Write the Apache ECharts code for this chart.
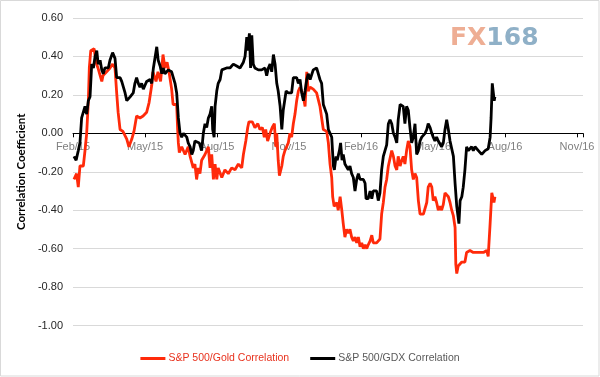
<!DOCTYPE html>
<html>
<head>
<meta charset="utf-8">
<script src="https://cdn.jsdelivr.net/npm/echarts@6/dist/echarts.min.js"></script>
<style>
  html, body { margin: 0; padding: 0; background: #fff; }
  #chart { width: 600px; height: 377px; }
</style>
</head>
<body>
<div id="chart"></div>
<script>
// x positions are months after Feb 2015 (0 = Feb/15, 3 = May/15, ...)
const monthLabels = ['Feb/15', 'May/15', 'Aug/15', 'Nov/15', 'Feb/16', 'May/16', 'Aug/16', 'Nov/16'];
const yTicks = [-1, -0.8, -0.6, -0.4, -0.2, 0, 0.2, 0.4, 0.6];

const goldMonths = [0.04, 0.15, 0.22, 0.29, 0.36, 0.43, 0.50, 0.57, 0.64, 0.68, 0.74, 0.82, 0.88, 0.96, 1.04, 1.20, 1.25, 1.40, 1.54, 1.65,
  1.75, 1.82, 1.88, 1.96, 2.08, 2.24, 2.33, 2.45, 2.54, 2.65, 2.79, 2.92, 3.07, 3.17, 3.28, 3.33, 3.46, 3.54, 3.65, 3.75,
  3.83, 3.92, 4.00, 4.11, 4.17, 4.32, 4.36, 4.39, 4.43, 4.53, 4.67, 4.80, 4.88, 4.95, 5.01, 5.08, 5.15, 5.22, 5.29, 5.36,
  5.50, 5.64, 5.71, 5.78, 5.85, 5.92, 5.99, 6.05, 6.20, 6.33, 6.47, 6.61, 6.75, 6.89, 7.03, 7.10, 7.20, 7.28, 7.33, 7.47,
  7.58, 7.70, 7.79, 7.89, 7.97, 8.03, 8.11, 8.21, 8.30, 8.39, 8.45, 8.49, 8.55, 8.60, 8.70, 8.76, 8.83, 8.90, 8.97, 9.04,
  9.11, 9.18, 9.25, 9.32, 9.39, 9.46, 9.53, 9.60, 9.67, 9.74, 9.80, 9.88, 10.01, 10.15, 10.22, 10.29, 10.36, 10.43, 10.57, 10.64,
  10.71, 10.78, 10.82, 10.88, 10.99, 11.05, 11.13, 11.20, 11.26, 11.33, 11.40, 11.47, 11.54, 11.61, 11.68, 11.75, 11.82, 11.89, 11.96, 12.03,
  12.10, 12.17, 12.24, 12.30, 12.38, 12.45, 12.51, 12.65, 12.79, 12.86, 12.93, 13.00, 13.07, 13.14, 13.21, 13.28, 13.35, 13.42, 13.49, 13.55,
  13.63, 13.70, 13.76, 13.83, 13.90, 13.97, 14.04, 14.11, 14.18, 14.25, 14.32, 14.39, 14.46, 14.53, 14.60, 14.67, 14.74, 14.80, 14.88, 14.95,
  15.01, 15.08, 15.15, 15.22, 15.29, 15.36, 15.43, 15.50, 15.57, 15.64, 15.71, 15.78, 15.85, 15.92, 15.95, 15.99, 16.05, 16.13, 16.20, 16.33,
  16.40, 16.54, 16.68, 16.82, 16.96, 17.10, 17.24, 17.30, 17.38, 17.45, 17.49, 17.54, 17.58];
const goldValues = [-0.24, -0.21, -0.28, -0.17, -0.16, -0.17, -0.09, 0.00, 0.17, 0.34, 0.43, 0.44, 0.44, 0.37, 0.34, 0.27, 0.30, 0.32, 0.34, 0.36,
  0.34, 0.21, 0.11, 0.02, 0.01, -0.03, -0.07, -0.03, 0.01, 0.09, 0.08, 0.09, 0.11, 0.16, 0.25, 0.32, 0.27, 0.32, 0.27, 0.41,
  0.34, 0.37, 0.32, 0.23, 0.15, 0.15, 0.02, -0.05, -0.10, -0.07, -0.11, -0.07, -0.12, -0.11, -0.18, -0.16, -0.24, -0.18, -0.21, -0.14,
  -0.11, -0.07, -0.18, -0.11, -0.24, -0.16, -0.24, -0.18, -0.23, -0.19, -0.21, -0.18, -0.19, -0.16, -0.18, -0.11, -0.04, 0.03, 0.06, 0.06,
  0.03, 0.05, 0.02, 0.03, -0.02, 0.02, -0.04, 0.00, 0.03, 0.05, -0.07, 0.00, -0.14, -0.22, -0.17, -0.12, -0.09, -0.07, -0.05, 0.00,
  -0.02, 0.05, 0.10, 0.17, 0.22, 0.24, 0.22, 0.19, 0.14, 0.32, 0.22, 0.24, 0.23, 0.21, 0.21, 0.14, 0.08, 0.02, 0.01, -0.05,
  -0.16, -0.23, -0.33, -0.38, -0.36, -0.40, -0.33, -0.40, -0.47, -0.54, -0.50, -0.52, -0.50, -0.54, -0.56, -0.54, -0.57, -0.54, -0.59, -0.57,
  -0.60, -0.58, -0.60, -0.58, -0.56, -0.53, -0.57, -0.57, -0.55, -0.42, -0.36, -0.28, -0.24, -0.17, -0.17, -0.09, -0.12, -0.17, -0.19, -0.12,
  -0.17, -0.14, -0.12, -0.16, -0.09, -0.04, -0.07, -0.19, -0.24, -0.21, -0.23, -0.35, -0.42, -0.43, -0.42, -0.43, -0.36, -0.28, -0.26, -0.28,
  -0.35, -0.33, -0.36, -0.40, -0.38, -0.40, -0.37, -0.31, -0.30, -0.33, -0.36, -0.40, -0.43, -0.49, -0.68, -0.73, -0.69, -0.68, -0.67, -0.67,
  -0.62, -0.61, -0.62, -0.62, -0.62, -0.62, -0.61, -0.64, -0.47, -0.31, -0.30, -0.36, -0.33];

const gdxMonths = [0.04, 0.13, 0.22, 0.29, 0.36, 0.43, 0.50, 0.57, 0.64, 0.71, 0.78, 0.85, 0.92, 0.99, 1.05, 1.13, 1.20, 1.26, 1.33, 1.40,
  1.47, 1.54, 1.65, 1.75, 1.82, 1.89, 1.96, 2.03, 2.10, 2.17, 2.24, 2.30, 2.38, 2.45, 2.51, 2.58, 2.65, 2.72, 2.79, 2.86,
  2.93, 3.00, 3.07, 3.21, 3.28, 3.35, 3.42, 3.49, 3.55, 3.63, 3.70, 3.76, 3.83, 3.90, 3.97, 4.04, 4.11, 4.18, 4.25, 4.32,
  4.39, 4.46, 4.53, 4.60, 4.67, 4.74, 4.80, 4.88, 4.95, 5.01, 5.08, 5.15, 5.26, 5.36, 5.43, 5.50, 5.57, 5.64, 5.71, 5.78,
  5.82, 5.88, 5.92, 5.99, 6.05, 6.13, 6.20, 6.26, 6.40, 6.54, 6.68, 6.75, 6.82, 6.89, 6.96, 7.03, 7.10, 7.17, 7.24, 7.28,
  7.35, 7.40, 7.45, 7.51, 7.58, 7.65, 7.72, 7.79, 7.86, 7.93, 8.00, 8.07, 8.14, 8.21, 8.28, 8.35, 8.42, 8.49, 8.55, 8.63,
  8.70, 8.76, 8.83, 8.88, 8.97, 9.04, 9.11, 9.18, 9.25, 9.32, 9.39, 9.46, 9.53, 9.60, 9.67, 9.74, 9.80, 9.88, 9.95, 10.01,
  10.08, 10.15, 10.22, 10.29, 10.36, 10.43, 10.50, 10.57, 10.64, 10.71, 10.78, 10.85, 10.89, 10.96, 11.01, 11.10, 11.15, 11.21, 11.26, 11.33,
  11.40, 11.47, 11.54, 11.61, 11.68, 11.75, 11.82, 11.89, 11.96, 12.03, 12.10, 12.17, 12.21, 12.30, 12.38, 12.45, 12.51, 12.58, 12.65, 12.72,
  12.79, 12.86, 12.93, 13.00, 13.07, 13.14, 13.21, 13.28, 13.35, 13.42, 13.49, 13.55, 13.63, 13.70, 13.76, 13.83, 13.90, 13.97, 14.04, 14.11,
  14.18, 14.25, 14.32, 14.39, 14.46, 14.53, 14.60, 14.67, 14.74, 14.80, 14.88, 14.95, 15.01, 15.08, 15.15, 15.22, 15.29, 15.36, 15.43, 15.50,
  15.57, 15.64, 15.71, 15.78, 15.85, 15.92, 15.99, 16.03, 16.08, 16.13, 16.20, 16.26, 16.33, 16.40, 16.47, 16.54, 16.61, 16.68, 16.75, 16.82,
  16.89, 16.96, 17.03, 17.10, 17.17, 17.24, 17.30, 17.38, 17.42, 17.47, 17.51, 17.55, 17.58];
const gdxValues = [-0.12, -0.14, -0.09, -0.05, 0.08, 0.07, 0.14, 0.10, 0.17, 0.19, 0.36, 0.34, 0.40, 0.43, 0.36, 0.38, 0.33, 0.31, 0.34, 0.33,
  0.34, 0.38, 0.42, 0.39, 0.29, 0.28, 0.29, 0.27, 0.24, 0.21, 0.17, 0.17, 0.19, 0.18, 0.21, 0.26, 0.29, 0.26, 0.24, 0.26,
  0.23, 0.25, 0.27, 0.28, 0.26, 0.34, 0.35, 0.45, 0.38, 0.35, 0.31, 0.34, 0.31, 0.32, 0.33, 0.34, 0.32, 0.29, 0.26, 0.21,
  0.08, 0.00, -0.02, 0.00, 0.00, -0.02, -0.05, -0.07, -0.11, -0.09, -0.04, -0.05, -0.05, -0.09, 0.00, 0.05, 0.03, 0.08, 0.10, 0.14,
  0.02, -0.02, 0.14, 0.22, 0.26, 0.28, 0.33, 0.34, 0.34, 0.34, 0.36, 0.37, 0.35, 0.34, 0.34, 0.33, 0.37, 0.40, 0.50, 0.43,
  0.52, 0.34, 0.51, 0.36, 0.34, 0.34, 0.33, 0.34, 0.33, 0.32, 0.34, 0.30, 0.34, 0.36, 0.32, 0.41, 0.36, 0.26, 0.22, 0.14,
  0.02, 0.12, 0.12, 0.22, 0.21, 0.22, 0.21, 0.29, 0.29, 0.29, 0.26, 0.28, 0.21, 0.17, 0.22, 0.28, 0.31, 0.28, 0.29, 0.33,
  0.32, 0.34, 0.33, 0.28, 0.26, 0.15, 0.14, 0.10, 0.02, 0.00, -0.02, -0.17, -0.19, -0.12, -0.14, -0.09, -0.05, -0.14, -0.11, -0.16,
  -0.17, -0.19, -0.17, -0.21, -0.23, -0.30, -0.24, -0.21, -0.24, -0.23, -0.24, -0.26, -0.34, -0.34, -0.30, -0.34, -0.30, -0.29, -0.30, -0.35,
  -0.31, -0.19, -0.12, -0.09, -0.06, 0.05, 0.07, 0.05, 0.00, -0.02, -0.05, 0.07, 0.15, 0.14, 0.14, 0.05, 0.14, 0.12, 0.03, -0.05,
  -0.02, 0.05, -0.11, -0.09, -0.04, -0.02, -0.02, 0.00, 0.02, 0.05, 0.03, 0.00, -0.02, -0.04, -0.02, -0.04, -0.05, -0.07, -0.05, 0.02,
  0.07, 0.02, -0.04, -0.04, -0.12, -0.26, -0.38, -0.38, -0.47, -0.35, -0.33, -0.28, -0.19, -0.07, -0.09, -0.09, -0.07, -0.09, -0.07, -0.08,
  -0.09, -0.09, -0.11, -0.10, -0.09, -0.09, -0.08, -0.02, 0.08, 0.26, 0.27, 0.17, 0.19];

const goldName = 'S&P 500/Gold Correlation';
const gdxName = 'S&P 500/GDX Correlation';
const goldColor = '#ff2a0a';
const gdxColor = '#000000';

const goldData = goldMonths.map((m, i) => [m, goldValues[i]]);
const gdxData = gdxMonths.map((m, i) => [m, gdxValues[i]]);

const gridTop = 18;
const gridBottom = 51.5;
const plotHeight = 377 - gridTop - gridBottom;
// the date axis sits on the zero line, not at the bottom of the plot
const zeroOffset = -plotHeight * (0 - yTicks[0]) / (yTicks[yTicks.length - 1] - yTicks[0]);

const chart = echarts.init(document.getElementById('chart'), null, { renderer: 'canvas' });

const option = {
  backgroundColor: '#ffffff',
  animation: false,
  grid: { left: 73, right: 17, top: gridTop, bottom: gridBottom },
  graphic: [
    {
      type: 'rect',
      shape: { x: 0.5, y: 0.5, width: 598.5, height: 375.5 },
      style: { fill: null, stroke: '#d9d9d9', lineWidth: 1 },
      silent: true
    },
    {
      type: 'text',
      left: 450,
      top: 26,
      style: {
        text: '{a|FX}{b|168}',
        rich: {
          a: { fill: '#eeae94', font: 'bold 25px "DejaVu Sans"' },
          b: { fill: '#8fb0c7', font: 'bold 25px "DejaVu Sans"' }
        }
      },
      silent: true
    }
  ],
  legend: {
    data: [
      { name: goldName, textStyle: { color: '#e8321e' } },
      { name: gdxName, textStyle: { color: '#595959' } }
    ],
    left: 'center',
    top: 348,
    icon: 'rect',
    itemWidth: 25,
    itemHeight: 3,
    itemGap: 21,
    textStyle: { fontFamily: 'Liberation Sans', fontSize: 10.5, padding: [0, 0, 0, -2] }
  },
  xAxis: {
    type: 'value',
    min: 0,
    max: 21.25,
    interval: 3,
    offset: zeroOffset,
    axisLine: { onZero: false, lineStyle: { color: '#000', width: 1 } },
    axisTick: { show: true, inside: false, length: 4, lineStyle: { color: '#000' } },
    splitLine: { show: false },
    axisLabel: {
      color: '#7f7f7f',
      fontFamily: 'Liberation Sans',
      fontSize: 11,
      margin: 8,
      formatter: v => (Math.abs(v % 3) < 1e-9 ? monthLabels[Math.round(v / 3)] : '')
    }
  },
  yAxis: {
    type: 'value',
    min: yTicks[0],
    max: yTicks[yTicks.length - 1],
    interval: 0.2,
    name: 'Correlation Coefficient',
    nameLocation: 'middle',
    nameGap: 37,
    nameTextStyle: { color: '#000', fontFamily: 'Lato', fontWeight: 'bold', fontSize: 11.5 },
    axisLine: { show: false },
    axisTick: { show: false },
    splitLine: { lineStyle: { color: '#d9d9d9', width: 1 } },
    axisLabel: {
      color: '#262626',
      fontFamily: 'Liberation Sans',
      fontSize: 11,
      margin: 10,
      formatter: v => v.toFixed(2)
    }
  },
  series: [
    {
      name: goldName,
      type: 'line',
      data: goldData,
      showSymbol: false,
      symbol: 'none',
      color: goldColor,
      lineStyle: { color: goldColor, width: 2.8 },
      z: 2
    },
    {
      name: gdxName,
      type: 'line',
      data: gdxData,
      showSymbol: false,
      symbol: 'none',
      color: gdxColor,
      lineStyle: { color: gdxColor, width: 2.8 },
      z: 3
    }
  ]
};

chart.setOption(option);
</script>
</body>
</html>
